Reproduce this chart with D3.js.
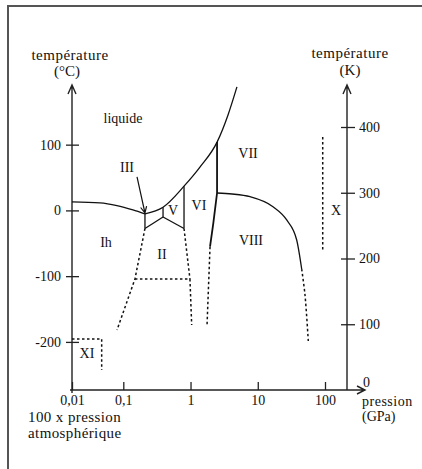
<!DOCTYPE html>
<html>
<head>
<meta charset="utf-8">
<script src="https://cdn.jsdelivr.net/npm/d3@7"></script>
<style>
  body { margin: 0; background: #fff; }
  svg text { font-family: "Liberation Serif", "DejaVu Serif", serif; fill: #111; }
</style>
</head>
<body>
<svg id="chart" width="422" height="469"></svg>
<script>
// axis ticks
pressureTicks = [0.01, 0.1, 1, 10, 100];
pressureLabels = ["0,01", "0,1", "1", "10", "100"];
celsiusTicks = [-200, -100, 0, 100];
kelvinTicks = [0, 100, 200, 300, 400];

// phase boundaries, [pressure GPa, temperature K]
meltIh = [[0.01, 286], [0.035, 284.5], [0.075, 280.5], [0.139, 274], [0.21, 268]];
meltHigh = [[0.21, 268], [0.39, 278], [0.8, 310], [1.38, 339], [2.48, 377], [3.6, 418], [4.9, 461]];
ihIII = [[0.21, 268], [0.21, 245.6]];
iiiII = [[0.21, 245.6], [0.39, 263.1]];
iiiV = [[0.39, 278], [0.39, 263.1]];
vII = [[0.39, 263.1], [0.8, 245.6]];
vVI = [[0.8, 310], [0.8, 245.6]];
viRight = [[2.48, 377], [2.48, 299.6], [2.18, 253.5], [1.95, 217.9]];
viiVIII = [[2.48, 299.6], [4.14, 298.1], [7.67, 294], [16.85, 278.8], [26.95, 258.6], [37.95, 228.1], [45, 184]];

// uncertain boundaries (dotted)
ihII = [[0.21, 245.6], [0.149, 168.8], [0.0754, 91.3]];
iiLow = [[0.149, 168.8], [0.98, 168.8], [1.04, 98.9]];
viII = [[0.8, 245.6], [0.98, 168.8]];
viVIII = [[1.95, 217.9], [1.76, 98.9]];
viiiLow = [[45, 184], [50.4, 144.5], [56.4, 74.5]];
xLine = [[92.5, 384.8], [92.5, 209.9]];
xiBox = [[0.01, 77.6], [0.0379, 77.6], [0.0379, 30.4]];

// phase names
phaseNames = ["liquide", "III", "V", "VI", "VII", "VIII", "X", "Ih", "II", "XI"];
phaseP = [0.0986, 0.1135, 0.549, 1.336, 7.16, 7.93, 145.8, 0.046, 0.376, 0.0196];
phaseK = [413.7, 339.2, 273.8, 281.4, 360.5, 228.1, 273.8, 225.1, 206.1, 56.3];

// arrow pointing at ice III
arrowIII = [[0.16, 324], [0.21, 269.2]];

svg = d3.select('#chart');

// frame
svg.append('path')
  .attr('d', 'M8,469V6H422')
  .attr('fill', 'none')
  .attr('stroke', '#555')
  .attr('stroke-width', 2);

// scales
x = d3.scaleLog()
  .domain([0.01, 0.1, 100])
  .range([72, 123.3, 325]);
yK = d3.scaleLinear().domain([0, 400]).range([390, 127]);
yC = d3.scaleLinear().domain([-273.15, 126.85]).range([390, 127]);

line = d3.line().x(d => x(d[0])).y(d => yK(d[1]));
smooth = d3.line().x(d => x(d[0])).y(d => yK(d[1])).curve(d3.curveMonotoneX);

// axes
function chevron(tx, ty, dir) {
  if (dir == 'up') return `M${tx - 4},${ty + 9}L${tx},${ty}L${tx + 4},${ty + 9}`;
  return `M${tx - 8},${ty - 4}L${tx},${ty}L${tx - 8},${ty + 4}`;
}

axisStroke = '#222';

gLeft = svg.append('g')
  .attr('transform', 'translate(72,0)')
  .call(d3.axisLeft(yC).tickValues(celsiusTicks).tickFormat(d => String(d)).tickSize(6).tickPadding(5));
gLeft.select('.domain').remove();
gLeft.selectAll('.tick line').attr('x1', 7).attr('stroke', axisStroke).attr('stroke-width', 1.3);
gLeft.selectAll('text').attr('font-size', 14);

gRight = svg.append('g')
  .attr('transform', 'translate(347,0)')
  .call(d3.axisRight(yK).tickValues(kelvinTicks).tickSize(8).tickPadding(4));
gRight.select('.domain').remove();
gRight.selectAll('.tick line').attr('x1', -6).attr('stroke', axisStroke).attr('stroke-width', 1.3);
gRight.selectAll('text').attr('font-size', 14);
gRight.selectAll('.tick').filter(d => d == 0).select('line').remove();
gRight.selectAll('.tick').filter(d => d == 0).select('text').attr('x', 16).attr('dy', '-0.25em');

gBottom = svg.append('g')
  .attr('transform', 'translate(0,390)')
  .call(d3.axisBottom(x).tickValues(pressureTicks).tickFormat((d, i) => pressureLabels[i]).tickSize(-8).tickPadding(5));
gBottom.select('.domain').remove();
gBottom.selectAll('.tick line').attr('stroke', axisStroke).attr('stroke-width', 1.3);
gBottom.selectAll('text').attr('font-size', 14);

// axis lines with arrows
svg.append('path')
  .attr('d', `M72,393V85` + chevron(72, 85, 'up') + `M347,390V85` + chevron(347, 85, 'up') + `M70,390H365` + chevron(365, 390, 'right'))
  .attr('fill', 'none')
  .attr('stroke', axisStroke)
  .attr('stroke-width', 1.4);

// axis titles
titles = svg.append('g').attr('font-size', 15).attr('text-anchor', 'middle');
titles.append('text').attr('x', 70).attr('y', 60).attr('letter-spacing', 0.5).text('température');
titles.append('text').attr('x', 67).attr('y', 76).text('(°C)');
titles.append('text').attr('x', 350).attr('y', 58).attr('letter-spacing', 0.5).text('température');
titles.append('text').attr('x', 350).attr('y', 75).text('(K)');
titles.append('text').attr('x', 28).attr('y', 422).attr('text-anchor', 'start').attr('letter-spacing', 0.4).text('100 x pression');
titles.append('text').attr('x', 28).attr('y', 438).attr('text-anchor', 'start').attr('letter-spacing', 0.4).text('atmosphérique');
titles.append('text').attr('x', 362).attr('y', 406).attr('text-anchor', 'start').attr('font-size', 14).attr('letter-spacing', 0.5).text('pression');
titles.append('text').attr('x', 362).attr('y', 421).attr('text-anchor', 'start').attr('font-size', 14).text('(GPa)');

// solid boundaries
solid = svg.append('g').attr('fill', 'none').attr('stroke', '#111').attr('stroke-width', 1.3);
solid.append('path').attr('d', smooth(meltIh));
solid.append('path').attr('d', smooth(meltHigh));
[ihIII, iiiII, iiiV, vII, vVI].forEach(s => solid.append('path').attr('d', line(s)));
solid.append('path').attr('d', line(viRight)).attr('stroke-width', 1.8);
solid.append('path').attr('d', smooth(viiVIII));

// dotted boundaries
dotted = svg.append('g').attr('fill', 'none').attr('stroke', '#111').attr('stroke-width', 1.5).attr('stroke-dasharray', '2.5,2.5');
[ihII, iiLow, viII, viVIII, xLine, xiBox].forEach(s => dotted.append('path').attr('d', line(s)));
dotted.append('path').attr('d', smooth.curve(d3.curveCatmullRom)(viiiLow));

// arrow to ice III
a0 = [x(arrowIII[0][0]), yK(arrowIII[0][1])];
a1 = [x(arrowIII[1][0]), yK(arrowIII[1][1])];
ang = Math.atan2(a1[1] - a0[1], a1[0] - a0[0]);
svg.append('path')
  .attr('d', `M${a0}L${a1}M${a1[0] - 7 * Math.cos(ang - 0.45)},${a1[1] - 7 * Math.sin(ang - 0.45)}L${a1}L${a1[0] - 7 * Math.cos(ang + 0.45)},${a1[1] - 7 * Math.sin(ang + 0.45)}`)
  .attr('fill', 'none')
  .attr('stroke', '#111')
  .attr('stroke-width', 1.2);

// phase labels
svg.append('g').attr('font-size', 14).attr('text-anchor', 'middle')
  .selectAll('text')
  .data(phaseNames)
  .enter().append('text')
    .attr('x', (d, i) => x(phaseP[i]))
    .attr('y', (d, i) => yK(phaseK[i]))
    .attr('dy', '0.35em')
    .text(d => d);
</script>
</body>
</html>
